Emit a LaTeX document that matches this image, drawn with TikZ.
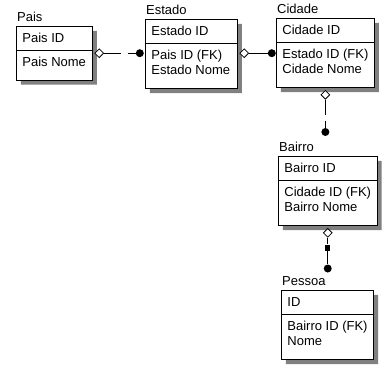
\documentclass[tikz,border=0pt]{standalone}
\usepackage{fontspec}
\setmainfont{Liberation Sans}
\usetikzlibrary{positioning,shapes.geometric,shapes.multipart,shadows}
\newcommand\EntKey{\rule[-5pt]{0pt}{17.5pt}}
\newcommand\EntTop{\rule{0pt}{12pt}}
\newcommand\EntEnd{\rule[-10.5pt]{0pt}{10.5pt}}

\begin{document}
\begin{tikzpicture}[x=1pt, y=-1pt, font=\fontsize{13pt}{15.5pt}\selectfont,
    entity/.style={rectangle split, rectangle split parts=2, rectangle split part align=left, draw, line width=0.8pt, fill=white, align=left, inner xsep=6pt, inner ysep=3pt, anchor=north west, drop shadow={shadow xshift=4.5pt, shadow yshift=-4.5pt, fill=black!50, opacity=1}},
    enttitle/.style={anchor=base west, inner sep=0pt},
    opendia/.style={diamond, draw, line width=0.8pt, fill=white, inner sep=0pt, minimum width=9pt, minimum height=9pt},
    dot/.style={circle, fill, inner sep=0pt, minimum size=8pt},
    rel/.style={line width=0.8pt}]
    \useasboundingbox (0,0) rectangle (386,370);

    % entities
    \node[entity, minimum width=76pt] (pais) at (16,26) {\EntKey Pais ID \nodepart{two}\EntTop Pais Nome\EntEnd};
    \node[entity, minimum width=92pt] (estado) at (145,19) {\EntKey Estado ID \nodepart{two}\EntTop Pais ID (FK)\\Estado Nome\EntEnd};
    \node[entity, minimum width=97pt] (cidade) at (276,18) {\EntKey Cidade ID \nodepart{two}\EntTop Estado ID (FK)\\Cidade Nome\EntEnd};
    \node[entity, minimum width=97pt] (bairro) at (278,156) {\EntKey Bairro ID \nodepart{two}\EntTop Cidade ID (FK)\\Bairro Nome\EntEnd};
    \node[entity, minimum width=92pt] (pessoa) at (281,290) {\EntKey ID \nodepart{two}\EntTop Bairro ID (FK)\\Nome\EntEnd};

    \node[enttitle] (paisT) at ([xshift=1pt, yshift=4.5pt]pais.north west) {Pais};
    \node[enttitle] (estadoT) at ([xshift=1pt, yshift=4.5pt]estado.north west) {Estado};
    \node[enttitle] (cidadeT) at ([xshift=1pt, yshift=4.5pt]cidade.north west) {Cidade};
    \node[enttitle] (bairroT) at ([xshift=1pt, yshift=4.5pt]bairro.north west) {Bairro};
    \node[enttitle] (pessoaT) at ([xshift=1pt, yshift=4.5pt]pessoa.north west) {Pessoa};

    % relationships
    \node[opendia, right=1.5pt of pais.east] (paisD) {};
    \node[dot, anchor=east, xshift=-1pt] (estC) at (estado.west |- paisD) {};
    \draw[rel, dash pattern=on 17pt off 7pt] (paisD) -- (estC);

    \node[opendia, anchor=west, xshift=1.5pt] (estD) at (estado.east |- paisD) {};
    \node[dot, anchor=east] (cidC) at (cidade.west |- estD) {};
    \draw[rel] (estD) -- (cidC);

    \node[opendia, below=2pt of cidade.south] (cidD) {};
    \node[dot, yshift=24pt] (bairC) at (cidD |- bairro.north) {};
    \draw[rel, dash pattern=on 15pt off 6pt] (cidD) -- (bairC);

    \node[opendia, below=2pt of bairro.south] (bairD) {};
    \node[fill, inner sep=0pt, minimum width=4.5pt, minimum height=6pt, yshift=42.5pt] (pesZ) at (bairD |- pessoa.north) {};
    \node[dot, yshift=21.5pt] (pesC) at (bairD |- pessoa.north) {};
    \draw[rel] (bairD) -- (pesZ) -- (pesC);
\end{tikzpicture}
\end{document}
